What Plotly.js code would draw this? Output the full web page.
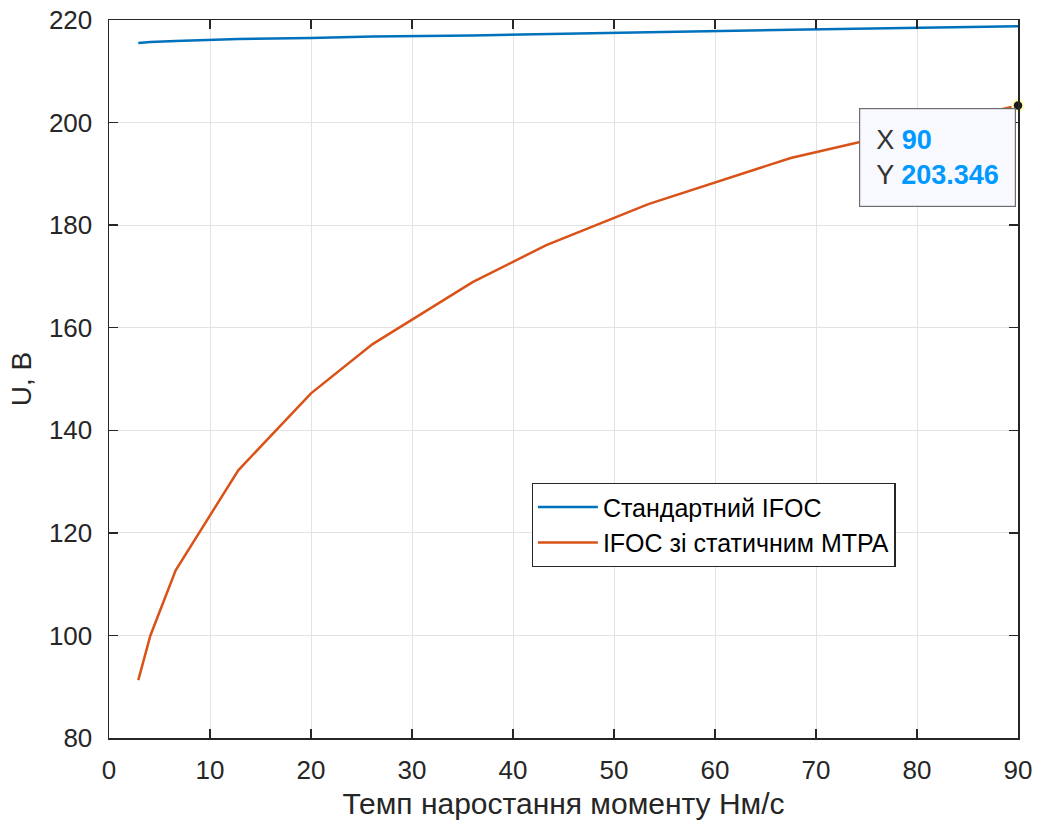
<!DOCTYPE html>
<html>
<head>
<meta charset="utf-8">
<script src="https://cdn.plot.ly/plotly-3.0.1.min.js"></script>
<style>body{margin:0;background:#fff}#chart{width:1037px;height:828px}</style>
</head>
<body>
<div id="chart"></div>
<script>
const xStd = [2.9, 4.1, 6.6, 12.8, 20, 26.1, 36, 43.3, 53.4, 67.5, 90];
const yStd = [215.5, 215.7, 215.9, 216.3, 216.5, 216.8, 217.0, 217.3, 217.6, 218.1, 218.8];
const xMtpa = [2.9, 4.1, 6.6, 12.8, 20, 26.1, 36, 43.3, 53.4, 67.5, 90];
const yMtpa = [91.3, 100, 112.7, 132.2, 147.2, 156.8, 168.9, 176.1, 184.1, 193.1, 203.346];
const names = ["Стандартний IFOC", "IFOC зі статичним MTPA"];
const tipX = 90, tipY = 203.346;

const font = "Liberation Sans, Arial, Helvetica, sans-serif";
const axisCol = "#262626";

const traces = [
  {x: xStd, y: yStd, mode: "lines", name: names[0], line: {color: "#0072BD", width: 2.5}},
  {x: xMtpa, y: yMtpa, mode: "lines", name: names[1], line: {color: "#D95319", width: 2.5}},
  {x: [tipX], y: [tipY], mode: "markers", showlegend: false,
   marker: {color: "#1a1a1a", size: 11, line: {color: "#ffffc0", width: 2.5}}, cliponaxis: false}
];

const layout = {
  width: 1037, height: 828,
  margin: {l: 109, r: 19, t: 20, b: 90},
  paper_bgcolor: "#fff", plot_bgcolor: "#fff",
  font: {family: font, color: axisCol, size: 26},
  showlegend: true,
  legend: {x: 0.465, y: 0.355, xanchor: "left", yanchor: "top",
    bgcolor: "#fff", bordercolor: axisCol, borderwidth: 1.2,
    font: {family: font, size: 25, color: "#000"}, tracegroupgap: 0, itemwidth: 60},
  xaxis: {range: [0, 90], dtick: 10, tick0: 0, showgrid: true, gridcolor: "#e3e3e3", gridwidth: 1,
    zeroline: false, showline: true, linecolor: axisCol, linewidth: 1.5, mirror: "allticks",
    ticks: "inside", ticklen: 9, tickwidth: 1.5, tickcolor: axisCol, ticklabelstandoff: 8,
    tickfont: {family: font, size: 26, color: axisCol},
    title: {text: "Темп наростання моменту Нм/с", font: {family: font, size: 30, color: axisCol}, standoff: 9}},
  yaxis: {range: [80, 220], dtick: 20, tick0: 80, showgrid: true, gridcolor: "#e3e3e3", gridwidth: 1,
    zeroline: false, showline: true, linecolor: axisCol, linewidth: 1.5, mirror: "allticks",
    ticks: "inside", ticklen: 9, tickwidth: 1.5, tickcolor: axisCol, ticklabelstandoff: 10,
    tickfont: {family: font, size: 26, color: axisCol},
    title: {text: "U, B", font: {family: font, size: 28, color: axisCol}, standoff: 9}},
  annotations: [{
    x: tipX, y: tipY, xref: "x", yref: "y",
    text: "X <b><span style='color:#0099ff'>90</span></b><br>Y <b><span style='color:#0099ff'>203.346</span></b>",
    showarrow: false, xanchor: "right", yanchor: "top", xshift: -2, yshift: -3,
    align: "left", bgcolor: "#f8f8ff", bordercolor: "#6e6e6e", borderwidth: 1.2, borderpad: 16,
    font: {family: font, size: 27, color: "#333"}
  }]
};

Plotly.newPlot("chart", traces, layout, {displayModeBar: false, staticPlot: true});
</script>
</body>
</html>
